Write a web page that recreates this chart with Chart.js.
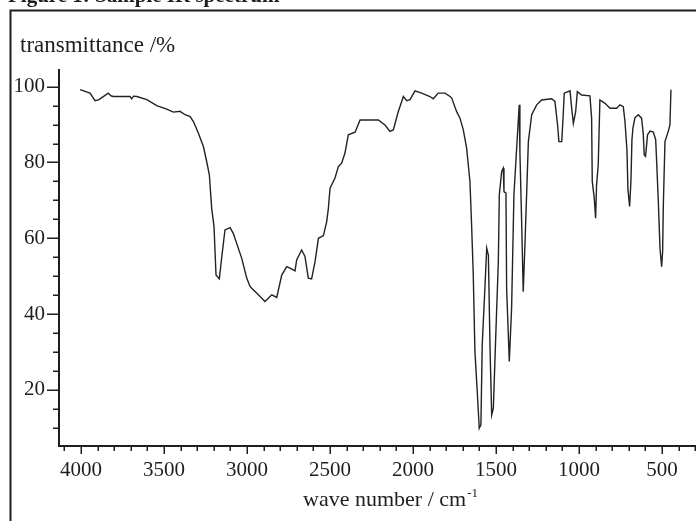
<!DOCTYPE html>
<html>
<head>
<meta charset="utf-8">
<script src="https://cdn.jsdelivr.net/npm/chart.js@4.4.1/dist/chart.umd.min.js"></script>
<style>
  html, body { margin: 0; padding: 0; background: #fff; }
  #wrap { width: 696px; height: 521px; position: relative; }
</style>
</head>
<body>
<div id="wrap"><canvas id="ir" width="696" height="521"></canvas></div>
<script>
// IR spectrum: wave number (cm-1) against transmittance (%)
const wavenumbers = [
  4006, 3946, 3916, 3895, 3875, 3836, 3820, 3805, 3705, 3695, 3684, 3664, 3604, 3544, 3484, 3444,
  3404, 3373, 3343, 3323, 3293, 3263, 3243, 3227, 3213, 3199, 3187, 3167, 3152, 3133, 3102, 3083,
  3032, 3002, 2982, 2972, 2932, 2892, 2851, 2821, 2791, 2761, 2741, 2711, 2701, 2671, 2651, 2631,
  2611, 2590, 2570, 2540, 2520, 2510, 2500, 2470, 2450, 2430, 2410, 2390, 2349, 2319, 2209, 2169,
  2139, 2119, 2089, 2058, 2038, 2018, 1988, 1948, 1898, 1878, 1848, 1807, 1777, 1767, 1737, 1717,
  1697, 1677, 1657, 1647, 1637, 1627, 1613, 1601, 1591, 1583, 1566, 1556, 1546, 1536, 1526, 1516,
  1506, 1486, 1480, 1466, 1456, 1452, 1440, 1436, 1420, 1406, 1392, 1372, 1360, 1356, 1345, 1336,
  1325, 1305, 1285, 1255, 1225, 1165, 1145, 1129, 1121, 1104, 1095, 1089, 1054, 1044, 1034, 1020,
  1010, 984, 934, 924, 920, 908, 900, 894, 884, 874, 843, 813, 773, 753, 733, 723,
  711, 705, 695, 687, 681, 675, 663, 643, 623, 613, 607, 599, 587, 572, 552, 538,
  532, 522, 512, 502, 496, 492, 482, 462, 452, 446
];
const transmittance = [
  99.2, 98.3, 96.3, 96.5, 97.1, 98.3, 97.6, 97.4, 97.4, 96.8, 97.5, 97.4, 96.6, 95.0, 94.1, 93.3,
  93.5, 92.6, 92.1, 90.8, 87.7, 84.2, 80.2, 76.7, 67.9, 63.1, 50.3, 49.3, 55.2, 62.2, 62.8, 61.3,
  54.7, 49.5, 47.3, 46.8, 45.1, 43.3, 45.1, 44.4, 50.3, 52.5, 52.1, 51.4, 54.3, 56.9, 55.2, 49.5,
  49.3, 53.9, 60.0, 60.7, 64.4, 67.9, 73.2, 75.9, 78.9, 79.8, 82.5, 87.3, 88.0, 91.2, 91.2, 89.9,
  88.2, 88.6, 93.4, 97.4, 96.3, 96.6, 98.9, 98.3, 97.4, 96.8, 98.3, 98.3, 97.4, 97.0, 93.4, 91.7,
  88.6, 83.8, 75.0, 63.5, 50.3, 30.1, 19.6, 9.9, 10.8, 31.9, 47.7, 57.4, 55.6, 31.0, 13.4, 15.2,
  28.4, 53.9, 71.5, 77.6, 78.5, 72.3, 71.9, 46.8, 27.5, 41.6, 71.5, 86.4, 95.2, 82.9, 63.5, 45.9,
  59.1, 85.5, 92.6, 95.2, 96.5, 96.8, 96.1, 89.9, 85.5, 85.5, 92.6, 98.3, 98.9, 94.3, 90.3, 93.4,
  98.7, 97.8, 97.6, 91.7, 75.0, 70.6, 65.3, 74.1, 79.4, 96.5, 95.6, 94.3, 94.3, 95.2, 94.7, 90.8,
  83.3, 72.8, 68.4, 75.1, 85.9, 89.1, 91.8, 92.6, 91.7, 87.7, 82.0, 81.6, 87.3, 88.3, 88.0, 86.0,
  80.2, 69.7, 57.4, 52.5, 56.5, 68.4, 85.5, 88.2, 89.9, 99.2
];
const xLabelValues = [4000, 3500, 3000, 2500, 2000, 1500, 1000, 500];
const yLabelValues = [20, 40, 60, 80, 100];

const INK = '#1e1e1e';
const SERIF = '"Liberation Serif", "DejaVu Serif", serif';

// frame, axis titles and tick marks
const decorations = {
  id: 'decorations',
  beforeDraw(chart) {
    const ctx = chart.ctx;
    ctx.save();
    ctx.fillStyle = '#fff';
    ctx.fillRect(0, 0, chart.width, chart.height);
    // caption above the frame
    ctx.fillStyle = INK;
    ctx.font = 'bold 21px ' + SERIF;
    ctx.textBaseline = 'alphabetic';
    ctx.fillText('Figure 1: Sample IR spectrum', 8, 2);
    // outer frame
    ctx.strokeStyle = INK;
    ctx.lineWidth = 2;
    ctx.beginPath();
    ctx.moveTo(10.5, chart.height);
    ctx.lineTo(10.5, 10.5);
    ctx.lineTo(chart.width, 10.5);
    ctx.stroke();
    ctx.restore();
  },
  afterDraw(chart) {
    const ctx = chart.ctx;
    const xs = chart.scales.x, ys = chart.scales.y;
    const area = chart.chartArea;
    ctx.save();
    ctx.strokeStyle = INK;
    ctx.lineWidth = 1.5;
    ctx.beginPath();
    ys.ticks.forEach(t => {
      const py = Math.round(ys.getPixelForValue(t.value)) + 0.25;
      const len = yLabelValues.includes(t.value) ? 12 : 6;
      ctx.moveTo(area.left - len, py);
      ctx.lineTo(area.left, py);
    });
    xs.ticks.forEach(t => {
      const px = Math.round(xs.getPixelForValue(t.value)) + 0.25;
      const len = xLabelValues.includes(t.value) ? 8 : 5;
      ctx.moveTo(px, area.bottom);
      ctx.lineTo(px, area.bottom + len);
    });
    ctx.stroke();

    ctx.fillStyle = INK;
    ctx.textBaseline = 'alphabetic';
    ctx.font = '23px ' + SERIF;
    ctx.textAlign = 'left';
    ctx.fillText('transmittance /%', 20, 52);

    // x title with superscript
    const main = 'wave number / cm';
    const sup = '-1';
    ctx.font = '22px ' + SERIF;
    const w1 = ctx.measureText(main).width;
    ctx.font = '13px ' + SERIF;
    const w2 = ctx.measureText(sup).width;
    const cx = 390;
    const start = cx - (w1 + w2) / 2;
    ctx.font = '22px ' + SERIF;
    ctx.fillText(main, start, 506);
    ctx.font = '13px ' + SERIF;
    ctx.fillText(sup, start + w1 + 1, 497);
    ctx.restore();
  }
};

new Chart(document.getElementById('ir'), {
  type: 'line',
  data: {
    datasets: [{
      data: wavenumbers.map((w, i) => ({ x: w, y: transmittance[i] })),
      borderColor: '#222',
      borderWidth: 1.4,
      pointRadius: 0,
      tension: 0,
      fill: false
    }]
  },
  options: {
    responsive: false,
    animation: false,
    devicePixelRatio: 1,
    layout: { padding: { top: 70, left: 0, right: 0, bottom: 0 } },
    plugins: { legend: { display: false }, tooltip: { enabled: false } },
    scales: {
      x: {
        type: 'linear',
        reverse: true,
        min: 295,
        max: 4133,
        afterFit(scale) {
          scale.height = 75;
          scale.paddingLeft = 0;
          scale.paddingRight = 0;
        },
        border: { display: true, color: INK, width: 2 },
        grid: { display: false, drawTicks: false },
        ticks: {
          stepSize: 100,
          includeBounds: false,
          autoSkip: false,
          maxRotation: 0,
          padding: 12,
          color: INK,
          font: { family: SERIF, size: 21 },
          callback: v => (xLabelValues.includes(v) ? String(v) : '')
        }
      },
      y: {
        type: 'linear',
        min: 5.2,
        max: 104.4,
        afterFit(scale) {
          scale.width = 59;
          scale.paddingTop = 0;
          scale.paddingBottom = 0;
        },
        border: { display: true, color: INK, width: 2 },
        grid: { display: false, drawTicks: false },
        ticks: {
          stepSize: 5,
          includeBounds: false,
          autoSkip: false,
          padding: 14,
          color: INK,
          font: { family: SERIF, size: 21 },
          callback: v => (yLabelValues.includes(v) ? String(v) : '')
        }
      }
    }
  },
  plugins: [decorations]
});
</script>
</body>
</html>
